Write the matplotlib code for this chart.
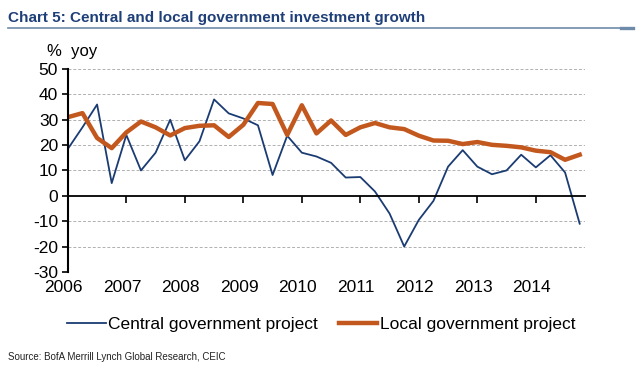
import matplotlib
matplotlib.use("Agg")
import matplotlib.pyplot as plt
from matplotlib.lines import Line2D
from matplotlib.transforms import ScaledTranslation

plt.rcParams['font.family'] = ['Liberation Sans', 'DejaVu Sans']
plt.rcParams['axes.unicode_minus'] = False

# quarterly points, 2006Q1 .. 2014Q4
quarters = [2006 + i * 0.25 for i in range(36)]
central = [18.5, 27, 36, 5, 24, 10, 17, 30, 14, 21.5, 38, 32.5,
           30.5, 27.8, 8.2, 23.7, 17, 15.5, 13, 7.2, 7.4, 1.7, -7, -20,
           -9.5, -2, 11.5, 18, 11.5, 8.5, 10, 16.2, 11.2, 16, 9.2, -11]
local = [31, 32.6, 22.8, 18.8, 25, 29.3, 27, 23.8, 26.7, 27.6, 27.8, 23.2,
         28, 36.6, 36.2, 24, 35.7, 24.6, 29.7, 24, 27, 28.7, 27, 26.3,
         23.7, 21.8, 21.7, 20.4, 21.2, 20.1, 19.7, 19.1, 17.8, 17.2, 14.2, 16.2]
years = list(range(2006, 2015))
yticks = list(range(-30, 51, 10))

navy = '#1B3C73'
orange = '#C3581F'

fig = plt.figure(figsize=(6.4, 3.75), dpi=100)
ax = fig.add_axes([0.106, 0.275, 0.808, 0.541])

ax.plot(quarters, central, color=navy, lw=1.3, label='Central government project')
ax.plot(quarters, local, color=orange, lw=3.2, label='Local government project')

ax.set_xlim(2006, 2014.84)
ax.set_ylim(-30, 50)
ax.set_yticks(yticks)
for v in yticks:
    if v != 0:
        ax.axhline(v, color='#B0B0B0', lw=0.7, ls=(0, (3, 2)), zorder=0)

ax.spines['top'].set_visible(False)
ax.spines['right'].set_visible(False)
ax.spines['left'].set_linewidth(1.5)
ax.spines['bottom'].set_position(('data', 0))
ax.spines['bottom'].set_linewidth(1.3)
ax.set_xticks(years)
ax.tick_params(axis='x', direction='out', length=5, width=1.2, labelbottom=False)
ax.tick_params(axis='y', direction='out', length=4, width=1.2, labelsize=12.5, pad=3)

sec = ax.secondary_xaxis(0)
sec.set_xticks(years)
sec.set_xticklabels([str(y) for y in years])
sec.spines['bottom'].set_visible(False)
sec.tick_params(length=0, labelsize=12.5, pad=6)
shift = ScaledTranslation(-4 / 100, 0, fig.dpi_scale_trans)
for lab in sec.get_xticklabels():
    lab.set_transform(lab.get_transform() + shift)

ax.legend(loc='upper center', bbox_to_anchor=(0.49, -0.145), ncol=2, frameon=False,
          fontsize=12.5, handlelength=2.2, handletextpad=0.15, columnspacing=1.2)

fig.text(0.0125, 0.952, 'Chart 5: Central and local government investment growth',
         weight='bold', fontsize=11, color='#1F3F78', va='center', ha='left')
fig.add_artist(Line2D([0.0125, 0.989], [0.925, 0.925], color='#6F8BAA', lw=1.2,
                      transform=fig.transFigure))
fig.add_artist(Line2D([0.970, 0.989], [0.925, 0.925], color='#6F8BAA', lw=2.4,
                      transform=fig.transFigure))
fig.text(0.073, 0.862, '%  yoy', fontsize=12, ha='left', va='center')
fig.text(0.0125, 0.048, 'Source: BofA Merrill Lynch Global Research, CEIC',
         fontsize=7, color='#222222', ha='left', va='center')

fig.savefig('out.png', dpi=100)
